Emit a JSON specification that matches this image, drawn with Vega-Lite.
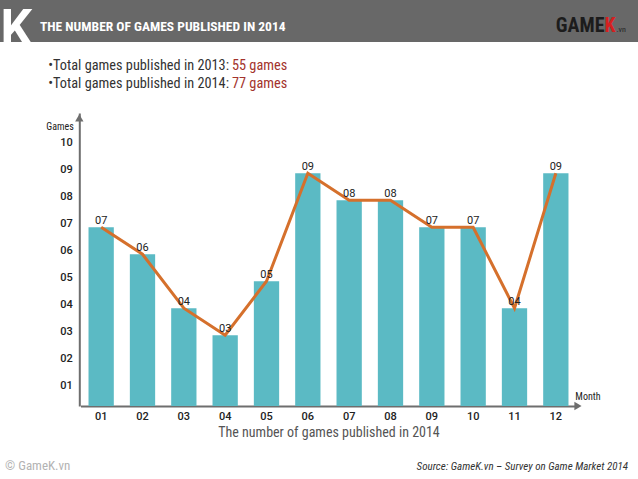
{
  "$schema": "https://vega.github.io/schema/vega-lite/v6.json",
  "padding": 0,
  "spacing": 0,
  "bounds": "flush",
  "background": "white",
  "config": {"view": {"stroke": null}, "font": "Roboto Condensed, Liberation Sans Narrow, Arial Narrow, DejaVu Sans Condensed, Roboto, sans-serif"},
  "title": {"text": "Source: GameK.vn – Survey on Game Market 2014", "orient": "bottom", "anchor": "end", "frame": "group", "offset": -9, "dx": -10, "baseline": "alphabetic", "fontSize": 11, "fontStyle": "italic", "fontWeight": "normal", "color": "#333333", "font": "Roboto Condensed, Liberation Sans Narrow, Arial Narrow, DejaVu Sans Condensed, Roboto, sans-serif"},
  "vconcat": [
    {
      "width": 638,
      "height": 42,
      "view": {"fill": "#686868", "stroke": null},
      "title": {"text": "THE NUMBER OF GAMES PUBLISHED IN 2014", "orient": "top", "anchor": "start", "frame": "group", "offset": -44, "dx": 40, "baseline": "alphabetic", "color": "white", "fontSize": 13.5, "fontWeight": "bold", "font": "Roboto Condensed, Liberation Sans Narrow, Arial Narrow, DejaVu Sans Condensed, Roboto, sans-serif"},
      "data": {"values": [{"brand": "GAMEK.vn"}]},
      "layer": [
        {
          "mark": {"type": "point", "opacity": 0, "size": 1},
          "encoding": {
            "x": {"datum": 0.5, "type": "quantitative", "scale": {"domain": [0, 1]}, "axis": {"orient": "top", "title": "GAME", "domain": false, "ticks": false, "labels": false, "grid": false, "titleX": 604, "titleY": 31, "titleAlign": "right", "titleBaseline": "alphabetic", "titleColor": "#1c1c1c", "titleFontSize": 20, "titleFontWeight": "bold", "titleFont": "Roboto Condensed, Liberation Sans Narrow, Arial Narrow, DejaVu Sans Condensed, Roboto, sans-serif"}},
            "y": {"datum": 0.5, "type": "quantitative", "scale": {"domain": [0, 1]}, "axis": {"orient": "left", "title": "K", "domain": false, "ticks": false, "labels": false, "grid": false, "titleX": 0, "titleY": 44, "titleAngle": 0, "titleAlign": "left", "titleBaseline": "alphabetic", "titleColor": "white", "titleFontSize": 50, "titleFontWeight": "bold", "titleFont": "Roboto"}}
          }
        },
        {
          "mark": {"type": "point", "opacity": 0, "size": 1},
          "encoding": {
            "x": {"datum": 0.5, "type": "quantitative", "axis": {"orient": "bottom", "title": "K", "domain": false, "ticks": false, "labels": false, "grid": false, "titleX": 604, "titleY": -11, "titleAlign": "left", "titleBaseline": "alphabetic", "titleColor": "#d42020", "titleFontSize": 20, "titleFontWeight": "bold", "titleFont": "Roboto Condensed, Liberation Sans Narrow, Arial Narrow, DejaVu Sans Condensed, Roboto, sans-serif"}},
            "y": {"datum": 0.5, "type": "quantitative", "axis": {"orient": "right", "title": ".vn", "domain": false, "ticks": false, "labels": false, "grid": false, "titleX": -22, "titleY": 31, "titleAngle": 0, "titleAlign": "left", "titleBaseline": "alphabetic", "titleColor": "#222222", "titleFontSize": 8, "titleFontWeight": "normal", "titleFont": "Roboto Condensed, Liberation Sans Narrow, Arial Narrow, DejaVu Sans Condensed, Roboto, sans-serif"}}
          }
        }
      ],
      "resolve": {"axis": {"x": "independent", "y": "independent"}}
    },
    {
      "width": 638,
      "height": 437,
      "title": {"text": "© GameK.vn", "orient": "bottom", "anchor": "start", "frame": "group", "offset": -9, "dx": 5, "baseline": "alphabetic", "fontSize": 13, "fontWeight": "normal", "color": "#b3b3b3", "font": "Roboto Condensed, Liberation Sans Narrow, Arial Narrow, DejaVu Sans Condensed, Roboto, sans-serif"},
      "data": {"values": [
        {"month": "01", "games": 7},
        {"month": "02", "games": 6},
        {"month": "03", "games": 4},
        {"month": "04", "games": 3},
        {"month": "05", "games": 5},
        {"month": "06", "games": 9},
        {"month": "07", "games": 8},
        {"month": "08", "games": 8},
        {"month": "09", "games": 7},
        {"month": "10", "games": 7},
        {"month": "11", "games": 4},
        {"month": "12", "games": 9}
      ]},
      "layer": [
        {
          "mark": {"type": "bar", "color": "#5bbac4"},
          "encoding": {
            "x": {"field": "month", "type": "ordinal", "scale": {"domain": ["01", "02", "03", "04", "05", "06", "07", "08", "09", "10", "11", "12"], "range": [80.5, 576.5], "paddingInner": 0.388, "paddingOuter": 0.194},
              "axis": {"orient": "bottom", "offset": -73, "ticks": false, "tickSize": 0, "grid": false, "domainColor": "#6e6e6e", "domainWidth": 2, "labelAngle": 0, "labelPadding": 4, "labelBaseline": "top", "labelFontSize": 11, "labelColor": "#222222", "labelFontWeight": 500, "labelFont": "Roboto", "title": "The number of games published in 2014", "titleX": 328.5, "titleY": 26, "titleBaseline": "middle", "titleAlign": "center", "titleFontSize": 14, "titleFontWeight": "normal", "titleColor": "#555555", "titleFont": "Roboto Condensed, Liberation Sans Narrow, Arial Narrow, DejaVu Sans Condensed, Roboto, sans-serif"}},
            "y": {"field": "games", "type": "quantitative", "scale": {"domain": [0.38, 11.23], "range": [364, 71], "nice": false, "zero": false},
              "axis": {"orient": "left", "offset": -79.3, "values": [1, 2, 3, 4, 5, 6, 7, 8, 9, 10], "format": "02d", "ticks": false, "tickSize": 0, "grid": false, "domainColor": "#6e6e6e", "domainWidth": 2, "labelPadding": 7, "labelOffset": -4, "labelFontSize": 11, "labelColor": "#222222", "labelFont": "Roboto", "labelFontWeight": 500, "title": "Games", "titleAngle": 0, "titleX": -6, "titleY": 84, "titleAlign": "right", "titleBaseline": "middle", "titleFontSize": 10, "titleFontWeight": "normal", "titleColor": "#222222", "titleFont": "Roboto Condensed, Liberation Sans Narrow, Arial Narrow, DejaVu Sans Condensed, Roboto, sans-serif"}},
            "y2": {"datum": 0.38}
          }
        },
        {
          "mark": {"type": "line", "color": "#d5702c", "strokeWidth": 3},
          "encoding": {
            "x": {"field": "month", "type": "ordinal"},
            "y": {"field": "games", "type": "quantitative"}
          }
        },
        {
          "mark": {"type": "text", "baseline": "alphabetic", "dy": -3, "fontSize": 11, "color": "#222222", "font": "Roboto"},
          "encoding": {
            "x": {"field": "month", "type": "ordinal"},
            "y": {"field": "games", "type": "quantitative"},
            "text": {"field": "games", "format": "02d"}
          }
        },
        {
          "data": {"values": [{"axis": "y"}]},
          "mark": {"type": "point", "shape": "triangle-up", "filled": true, "color": "#6e6e6e", "size": 70, "opacity": 1},
          "encoding": {
            "x": {"datum": "01", "type": "ordinal", "bandPosition": -0.364},
            "y": {"datum": 11.05, "type": "quantitative"}
          }
        },
        {
          "data": {"values": [{"axis": "x"}]},
          "mark": {"type": "point", "shape": "triangle-right", "filled": true, "color": "#6e6e6e", "size": 70, "opacity": 1},
          "encoding": {
            "x": {"datum": "12", "type": "ordinal", "bandPosition": 1.375},
            "y": {"datum": 0.38, "type": "quantitative"}
          }
        },
        {
          "data": {"values": [{"label": "Month"}]},
          "mark": {"type": "text", "fontSize": 10, "color": "#222222", "baseline": "middle", "align": "center"},
          "encoding": {
            "x": {"datum": "12", "type": "ordinal", "bandPosition": 1.77},
            "y": {"datum": 0.71, "type": "quantitative"},
            "text": {"field": "label"}
          }
        },
        {
          "data": {"values": [{"label": "•Total games published in 2013:", "total": "55 games"}]},
          "encoding": {
            "x": {"datum": "04", "type": "ordinal", "bandPosition": 0.69},
            "y": {"datum": 12.96, "type": "quantitative"}
          },
          "layer": [
            {"mark": {"type": "text", "align": "right", "baseline": "middle", "dx": -1, "fontSize": 14.3, "color": "#333333"}, "encoding": {"text": {"field": "label"}}},
            {"mark": {"type": "text", "align": "left", "baseline": "middle", "dx": 2, "fontSize": 14.3, "color": "#a3322c"}, "encoding": {"text": {"field": "total"}}}
          ]
        },
        {
          "data": {"values": [{"label": "•Total games published in 2014:", "total": "77 games"}]},
          "encoding": {
            "x": {"datum": "04", "type": "ordinal", "bandPosition": 0.69},
            "y": {"datum": 12.31, "type": "quantitative"}
          },
          "layer": [
            {"mark": {"type": "text", "align": "right", "baseline": "middle", "dx": -1, "fontSize": 14.3, "color": "#333333"}, "encoding": {"text": {"field": "label"}}},
            {"mark": {"type": "text", "align": "left", "baseline": "middle", "dx": 2, "fontSize": 14.3, "color": "#a3322c"}, "encoding": {"text": {"field": "total"}}}
          ]
        }
      ]
    }
  ]
}
